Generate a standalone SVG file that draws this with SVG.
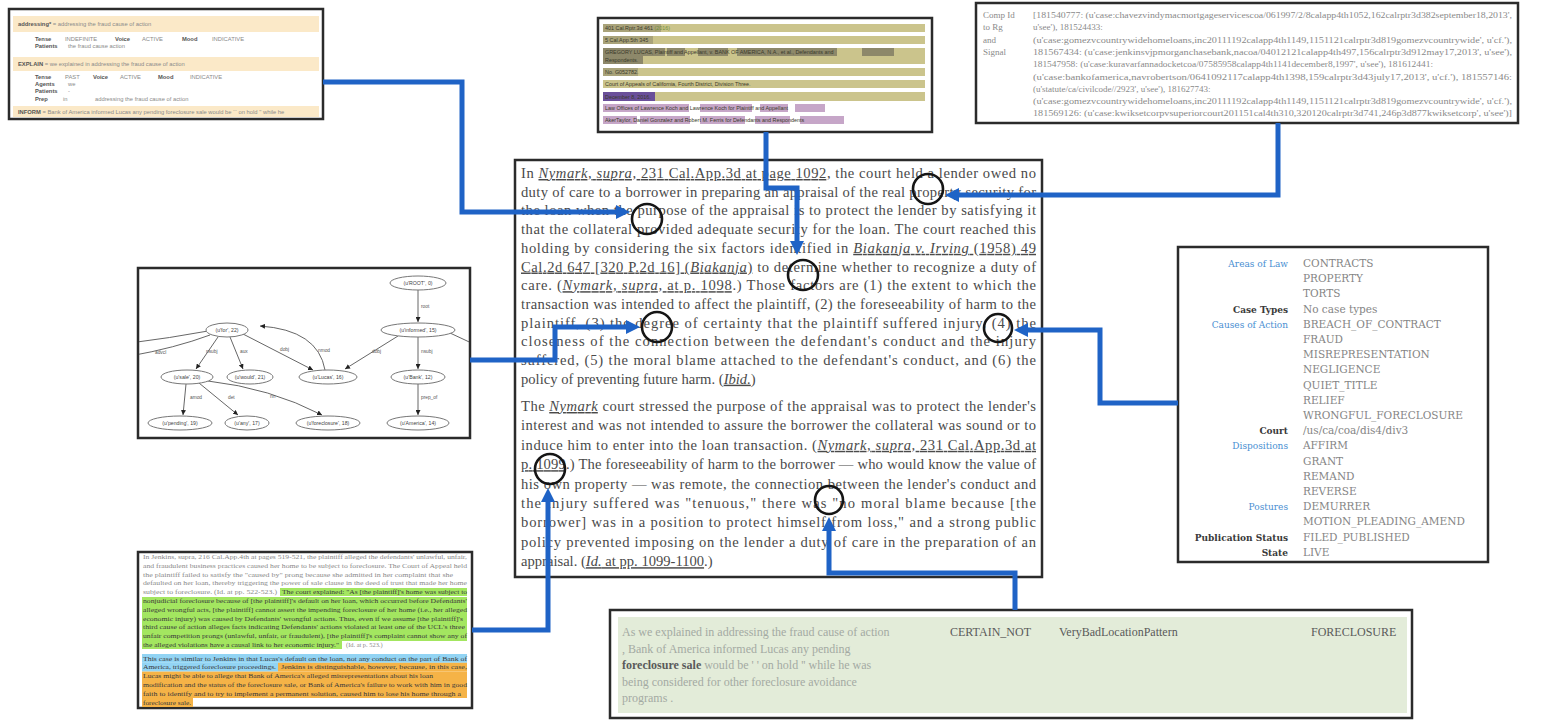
<svg xmlns="http://www.w3.org/2000/svg" width="1564" height="720" viewBox="0 0 1564 720">
<style>
.panel{fill:#fff;stroke:#2b2b2b;stroke-width:2.5}
.conn{fill:none;stroke:#1f63c6;stroke-width:5}
.ring{fill:none;stroke:#151515;stroke-width:2.6}
.ct{font-family:"Liberation Serif",serif;font-size:14.6px;fill:#4a4a4a}
.u{text-decoration:underline}
.i{font-style:italic}
.tl{font-family:"Liberation Sans",sans-serif;font-size:5.8px;fill:#8a8a8a;font-weight:normal}
.tlb{font-family:"Liberation Sans",sans-serif;font-size:5.8px;fill:#555;font-weight:bold}
.tr{font-family:"Liberation Serif",serif;font-size:9px;fill:#8a8a8a}
.lbl{font-family:"DejaVu Serif",serif;font-size:9px;text-anchor:end;font-weight:bold}
.blue{fill:#4a8fd2;font-weight:normal}
.dark{fill:#3a3a3a}
.val{font-family:"DejaVu Serif",serif;font-size:10.5px;fill:#858585}
.gn{font-family:"Liberation Sans",sans-serif;font-size:5.2px;fill:#444;text-anchor:middle}
.gl{font-family:"Liberation Sans",sans-serif;font-size:4.8px;fill:#555}
.ge{fill:none;stroke:#555;stroke-width:0.9}
.gell{fill:#fff;stroke:#777;stroke-width:1}
.bl{font-family:"Liberation Serif",serif;font-size:6.4px;fill:#8a8a8a}
.blh{font-family:"Liberation Serif",serif;font-size:6.4px;fill:#3a3a3a}
.bc{font-family:"Liberation Serif",serif;font-size:12px;fill:#a3aaa3}
.bcd{font-family:"Liberation Serif",serif;font-size:12px;fill:#5a5a5a}
.tc{font-family:"Liberation Sans",sans-serif;font-size:5.4px;fill:#3a3a2a}
</style>
<defs>
<marker id="ah" markerUnits="userSpaceOnUse" markerWidth="16" markerHeight="16" viewBox="0 0 16 16" refX="0" refY="8" orient="auto"><path d="M0,1 L14,8 L0,15 z" fill="#1f63c6"/></marker>
<marker id="ga" markerUnits="userSpaceOnUse" markerWidth="5" markerHeight="5" viewBox="0 0 10 10" refX="10" refY="5" orient="auto"><path d="M0,0 L10,5 L0,10 z" fill="#222"/></marker>
<clipPath id="gclip"><rect x="139" y="269" width="330" height="168"/></clipPath>
</defs>
<rect width="1564" height="720" fill="#fff"/>

<!-- Top-left: verb frames -->
<g id="frames">
<rect class="panel" x="9" y="9" width="314" height="110"/>
<rect x="13" y="16" width="306" height="16" fill="#fbe9c8"/>
<text class="tlb" x="18" y="26">addressing*<tspan class="tl"> = addressing the fraud cause of action</tspan></text>
<text class="tlb" x="35" y="41">Tense</text><text class="tl" x="65" y="41">INDEFINITE</text>
<text class="tlb" x="115" y="41">Voice</text><text class="tl" x="142" y="41">ACTIVE</text>
<text class="tlb" x="182" y="41">Mood</text><text class="tl" x="212" y="41">INDICATIVE</text>
<text class="tlb" x="35" y="47.5">Patients</text><text class="tl" x="68" y="47.5">the fraud cause action</text>
<rect x="13" y="57" width="306" height="14" fill="#fbe9c8"/>
<text class="tlb" x="18" y="66">EXPLAIN<tspan class="tl"> = we explained in addressing the fraud cause of action</tspan></text>
<text class="tlb" x="35" y="79">Tense</text><text class="tl" x="65" y="79">PAST</text>
<text class="tlb" x="93" y="79">Voice</text><text class="tl" x="120" y="79">ACTIVE</text>
<text class="tlb" x="158" y="79">Mood</text><text class="tl" x="190" y="79">INDICATIVE</text>
<text class="tlb" x="35" y="86">Agents</text><text class="tl" x="68" y="86">we</text>
<text class="tlb" x="35" y="93">Patients</text><text class="tl" x="68" y="93">-</text>
<text class="tlb" x="35" y="100.5">Prep</text><text class="tl" x="63" y="100.5">in</text><text class="tl" x="95" y="100.5">addressing the fraud cause of action</text>
<rect x="13" y="106" width="306" height="11" fill="#fbe9c8"/>
<text class="tlb" x="18" y="114">INFORM<tspan class="tl"> = Bank of America informed Lucas any pending foreclosure sale would be `` on hold '' while he</tspan></text>
</g>

<!-- Top-center: case header -->
<g id="header">
<rect class="panel" x="598" y="18" width="334" height="114"/>
<rect x="603" y="24" width="322" height="8" fill="#cbc48c"/>
<rect x="603" y="24" width="58" height="8" fill="#a9a37a"/>
<text class="tc" x="605" y="30">401 Cal.Rptr.3d 461 <tspan fill="#6f8f3a">(2016)</tspan></text>
<rect x="603" y="36" width="322" height="8" fill="#cbc48c"/>
<rect x="603" y="36" width="50" height="8" fill="#a9a37a"/>
<text class="tc" x="605" y="42">5 Cal.App.5th 345</text>
<rect x="603" y="48" width="322" height="16" fill="#cbc48c"/>
<rect x="603" y="48" width="62" height="8" fill="#8d886a"/>
<rect x="667" y="48" width="18" height="8" fill="#8d886a"/>
<rect x="698" y="48" width="30" height="8" fill="#8d886a"/>
<rect x="737" y="48" width="100" height="8" fill="#8d886a"/>
<rect x="862" y="48" width="32" height="8" fill="#8d886a"/>
<rect x="603" y="56" width="40" height="8" fill="#8d886a"/>
<text class="tc" x="605" y="54">GREGORY LUCAS, Plaintiff and Appellant, v. BANK OF AMERICA, N.A., et al., Defendants and</text>
<text class="tc" x="605" y="62">Respondents.</text>
<rect x="603" y="68" width="322" height="8" fill="#cbc48c"/>
<rect x="603" y="68" width="35" height="8" fill="#a9a37a"/>
<text class="tc" x="605" y="74">No. G052782.</text>
<rect x="603" y="80" width="322" height="8" fill="#cbc48c"/>
<text class="tc" x="605" y="86" fill="#2e8f7a">Court of Appeals of California, Fourth District, Division Three.</text>
<rect x="603" y="92" width="322" height="9" fill="#cbc48c"/>
<rect x="603" y="92" width="52" height="9" fill="#6a4f9a"/>
<text class="tc" x="605" y="98.5" fill="#2a1f45">December 8, 2016.</text>
<rect x="603" y="104" width="86" height="8" fill="#c6a6c8"/>
<rect x="700" y="104" width="52" height="8" fill="#c6a6c8"/>
<rect x="760" y="104" width="28" height="8" fill="#c6a6c8"/>
<rect x="795" y="104" width="30" height="8" fill="#c6a6c8"/>
<text class="tc" x="605" y="110">Law Offices of Lawrence Koch  and  Lawrence Koch  for  Plaintiff  and  Appellant</text>
<rect x="603" y="116" width="34" height="8" fill="#c6a6c8"/>
<rect x="640" y="116" width="50" height="8" fill="#c6a6c8"/>
<rect x="700" y="116" width="45" height="8" fill="#c6a6c8"/>
<rect x="755" y="116" width="35" height="8" fill="#c6a6c8"/>
<rect x="800" y="116" width="44" height="8" fill="#c6a6c8"/>
<text class="tc" x="605" y="122">AkerTaylor,  Daniel Gonzalez  and  Robert M. Ferris  for  Defendants  and  Respondents</text>
</g>

<!-- Top-right: citation signals -->
<g id="citations">
<rect class="panel" x="976" y="3" width="542" height="120"/>
<text class="tr" x="983" y="18">Comp Id</text>
<text class="tr" x="983" y="30">to Rg</text>
<text class="tr" x="983" y="43">and</text>
<text class="tr" x="983" y="55">Signal</text>
<text class="tr" x="1033" y="18" textLength="479" lengthAdjust="spacingAndGlyphs">[181540777: (u'case:chavezvindymacmortgageservicescoa/061997/2/8calapp4th1052,162calrptr3d382september18,2013',</text>
<text class="tr" x="1033" y="30">u'see'), 181524433:</text>
<text class="tr" x="1033" y="43" textLength="479" lengthAdjust="spacingAndGlyphs">(u'case:gomezvcountrywidehomeloans,inc20111192calapp4th1149,1151121calrptr3d819gomezvcountrywide', u'cf.'),</text>
<text class="tr" x="1033" y="55" textLength="479" lengthAdjust="spacingAndGlyphs">181567434: (u'case:jenkinsvjpmorganchasebank,nacoa/04012121calapp4th497,156calrptr3d912may17,2013', u'see'),</text>
<text class="tr" x="1033" y="67" textLength="400" lengthAdjust="spacingAndGlyphs">181547958: (u'case:kuravarfannadocketcoa/07585958calapp4th1141december8,1997', u'see'), 181612441:</text>
<text class="tr" x="1033" y="80" textLength="479" lengthAdjust="spacingAndGlyphs">(u'case:bankofamerica,navrobertson/0641092117calapp4th1398,159calrptr3d43july17,2013', u'cf.'), 181557146:</text>
<text class="tr" x="1033" y="92">(u'statute/ca/civilcode//2923', u'see'), 181627743:</text>
<text class="tr" x="1033" y="104" textLength="479" lengthAdjust="spacingAndGlyphs">(u'case:gomezvcountrywidehomeloans,inc20111192calapp4th1149,1151121calrptr3d819gomezvcountrywide', u'cf.'),</text>
<text class="tr" x="1033" y="116" textLength="479" lengthAdjust="spacingAndGlyphs">181569126: (u'case:kwiksetcorpvsuperiorcourt201151cal4th310,320120calrptr3d741,246p3d877kwiksetcorp', u'see')]</text>
</g>

<!-- Left: dependency graph -->
<g id="depgraph">
<rect class="panel" x="138" y="268" width="332" height="170"/>
<g clip-path="url(#gclip)">
<path class="ge" d="M418,290 L418,322" marker-end="url(#ga)"/>
<path class="ge" d="M398,336 L345,369" marker-end="url(#ga)"/>
<path class="ge" d="M418,337 L418,369" marker-end="url(#ga)"/>
<path class="ge" d="M450,333 L480,347"/>
<path class="ge" d="M208,331 Q170,338 130,343"/>
<path class="ge" d="M210,335 Q175,348 130,356"/>
<path class="ge" d="M218,337 L196,369" marker-end="url(#ga)"/>
<path class="ge" d="M230,337 L243,369" marker-end="url(#ga)"/>
<path class="ge" d="M243,334 L313,370" marker-end="url(#ga)"/>
<path class="ge" d="M325,370 Q318,330 260,326" marker-end="url(#ga)"/>
<path class="ge" d="M186,384 L183,415" marker-end="url(#ga)"/>
<path class="ge" d="M199,383 L238,415" marker-end="url(#ga)"/>
<path class="ge" d="M208,381 Q270,388 322,415" marker-end="url(#ga)"/>
<path class="ge" d="M418,384 L418,415" marker-end="url(#ga)"/>
<text class="gl" x="421" y="308">root</text>
<text class="gl" x="372" y="353">dobj</text>
<text class="gl" x="421" y="353">nsubj</text>
<text class="gl" x="155" y="354">advcl</text>
<text class="gl" x="206" y="353">nsubj</text>
<text class="gl" x="240" y="353">aux</text>
<text class="gl" x="280" y="351">dobj</text>
<text class="gl" x="318" y="352">nmod</text>
<text class="gl" x="190" y="399">amod</text>
<text class="gl" x="228" y="399">det</text>
<text class="gl" x="270" y="398">nn</text>
<text class="gl" x="421" y="399">prep_of</text>
<ellipse class="gell" cx="418" cy="283" rx="28" ry="7"/><text class="gn" x="418" y="285">(u'ROOT', 0)</text>
<ellipse class="gell" cx="418" cy="330" rx="37" ry="7"/><text class="gn" x="418" y="332">(u'informed', 15)</text>
<ellipse class="gell" cx="227" cy="330" rx="21" ry="7"/><text class="gn" x="227" y="332">(u'for', 22)</text>
<ellipse class="gell" cx="187" cy="377" rx="26" ry="7"/><text class="gn" x="187" y="379">(u'sale', 20)</text>
<ellipse class="gell" cx="250" cy="377" rx="23" ry="7"/><text class="gn" x="250" y="379">(u'would', 21)</text>
<ellipse class="gell" cx="328" cy="377" rx="29" ry="7"/><text class="gn" x="328" y="379">(u'Lucas', 16)</text>
<ellipse class="gell" cx="418" cy="377" rx="27" ry="7"/><text class="gn" x="418" y="379">(u'Bank', 12)</text>
<ellipse class="gell" cx="180" cy="423" rx="32" ry="7"/><text class="gn" x="180" y="425">(u'pending', 19)</text>
<ellipse class="gell" cx="247" cy="423" rx="22" ry="7"/><text class="gn" x="247" y="425">(u'any', 17)</text>
<ellipse class="gell" cx="328" cy="423" rx="32" ry="7"/><text class="gn" x="328" y="425">(u'foreclosure', 18)</text>
<ellipse class="gell" cx="418" cy="423" rx="31" ry="7"/><text class="gn" x="418" y="425">(u'America', 14)</text>
</g>
</g>

<!-- Center: opinion text -->
<g id="opinion">
<rect class="panel" x="515" y="160" width="527" height="417"/>
<text class="ct" x="521" y="178" textLength="515" lengthAdjust="spacing">In <tspan class="u i">Nymark, supra,</tspan><tspan class="u"> 231 Cal.App.3d at page 1092</tspan>, the court held a lender owed no</text>
<text class="ct" x="521" y="196.7" textLength="515" lengthAdjust="spacing">duty of care to a borrower in preparing an appraisal of the real property security for</text>
<text class="ct" x="521" y="215.4" textLength="515" lengthAdjust="spacing">the loan when the purpose of the appraisal is to protect the lender by satisfying it</text>
<text class="ct" x="521" y="234.1" textLength="515" lengthAdjust="spacing">that the collateral provided adequate security for the loan. The court reached this</text>
<text class="ct" x="521" y="252.8" textLength="515" lengthAdjust="spacing">holding by considering the six factors identified in <tspan class="u i">Biakanja v. Irving</tspan><tspan class="u"> (1958) 49</tspan></text>
<text class="ct" x="521" y="271.5" textLength="515" lengthAdjust="spacing"><tspan class="u">Cal.2d 647 [320 P.2d 16] (</tspan><tspan class="u i">Biakanja</tspan><tspan class="u">)</tspan> to determine whether to recognize a duty of</text>
<text class="ct" x="521" y="290.2" textLength="515" lengthAdjust="spacing">care. (<tspan class="u i">Nymark, supra,</tspan><tspan class="u"> at p. 1098</tspan>.) Those factors are (1) the extent to which the</text>
<text class="ct" x="521" y="308.9" textLength="515" lengthAdjust="spacing">transaction was intended to affect the plaintiff, (2) the foreseeability of harm to the</text>
<text class="ct" x="521" y="327.6" textLength="515" lengthAdjust="spacing">plaintiff, (3) the degree of certainty that the plaintiff suffered injury, (4) the</text>
<text class="ct" x="521" y="346.3" textLength="515" lengthAdjust="spacing">closeness of the connection between the defendant's conduct and the injury</text>
<text class="ct" x="521" y="365" textLength="515" lengthAdjust="spacing">suffered, (5) the moral blame attached to the defendant's conduct, and (6) the</text>
<text class="ct" x="521" y="383.7">policy of preventing future harm. (<tspan class="u i">Ibid.</tspan>)</text>
<text class="ct" x="521" y="411" textLength="515" lengthAdjust="spacing">The <tspan class="u i">Nymark</tspan> court stressed the purpose of the appraisal was to protect the lender's</text>
<text class="ct" x="521" y="430.4" textLength="515" lengthAdjust="spacing">interest and was not intended to assure the borrower the collateral was sound or to</text>
<text class="ct" x="521" y="449.8" textLength="515" lengthAdjust="spacing">induce him to enter into the loan transaction. (<tspan class="u i">Nymark, supra,</tspan><tspan class="u"> 231 Cal.App.3d at</tspan></text>
<text class="ct" x="521" y="469.2" textLength="515" lengthAdjust="spacing"><tspan class="u">p. 1099</tspan>.) The foreseeability of harm to the borrower — who would know the value of</text>
<text class="ct" x="521" y="488.6" textLength="515" lengthAdjust="spacing">his own property — was remote, the connection between the lender's conduct and</text>
<text class="ct" x="521" y="508" textLength="515" lengthAdjust="spacing">the injury suffered was "tenuous," there was "no moral blame because [the</text>
<text class="ct" x="521" y="527.4" textLength="515" lengthAdjust="spacing">borrower] was in a position to protect himself from loss," and a strong public</text>
<text class="ct" x="521" y="546.8" textLength="515" lengthAdjust="spacing">policy prevented imposing on the lender a duty of care in the preparation of an</text>
<text class="ct" x="521" y="566.2">appraisal. (<tspan class="u i">Id.</tspan><tspan class="u"> at pp. 1099-1100</tspan>.)</text>
<circle class="ring" cx="647" cy="219" r="15"/>
<circle class="ring" cx="928" cy="189" r="15"/>
<circle class="ring" cx="803" cy="275" r="15"/>
<circle class="ring" cx="657" cy="327" r="15"/>
<circle class="ring" cx="998" cy="328" r="14"/>
<circle class="ring" cx="550" cy="469" r="15"/>
<circle class="ring" cx="829" cy="500" r="14"/>
</g>

<!-- Right: metadata -->
<g id="metadata">
<rect class="panel" x="1178" y="247" width="310" height="315"/>
<text class="lbl blue" x="1288" y="267">Areas of Law</text><text class="val" x="1303" y="267">CONTRACTS</text>
<text class="val" x="1303" y="282.2">PROPERTY</text>
<text class="val" x="1303" y="297.4">TORTS</text>
<text class="lbl dark" x="1288" y="312.6">Case Types</text><text class="val" x="1303" y="312.6">No case types</text>
<text class="lbl blue" x="1288" y="327.8">Causes of Action</text><text class="val" x="1303" y="327.8">BREACH_OF_CONTRACT</text>
<text class="val" x="1303" y="343">FRAUD</text>
<text class="val" x="1303" y="358.2">MISREPRESENTATION</text>
<text class="val" x="1303" y="373.4">NEGLIGENCE</text>
<text class="val" x="1303" y="388.6">QUIET_TITLE</text>
<text class="val" x="1303" y="403.8">RELIEF</text>
<text class="val" x="1303" y="419">WRONGFUL_FORECLOSURE</text>
<text class="lbl dark" x="1288" y="434.2">Court</text><text class="val" x="1303" y="434.2">/us/ca/coa/dis4/div3</text>
<text class="lbl blue" x="1288" y="449.4">Dispositions</text><text class="val" x="1303" y="449.4">AFFIRM</text>
<text class="val" x="1303" y="464.6">GRANT</text>
<text class="val" x="1303" y="479.8">REMAND</text>
<text class="val" x="1303" y="495">REVERSE</text>
<text class="lbl blue" x="1288" y="510.2">Postures</text><text class="val" x="1303" y="510.2">DEMURRER</text>
<text class="val" x="1303" y="525.4">MOTION_PLEADING_AMEND</text>
<text class="lbl dark" x="1288" y="540.6">Publication Status</text><text class="val" x="1303" y="540.6">FILED_PUBLISHED</text>
<text class="lbl dark" x="1288" y="555.8">State</text><text class="val" x="1303" y="555.8">LIVE</text>
</g>

<!-- Bottom-left: highlighted analogy -->
<g id="analogy">
<rect class="panel" x="138" y="552" width="334" height="156"/>
<rect x="280" y="588" width="187" height="8" fill="#a3e660"/>
<rect x="142" y="597" width="325" height="44" fill="#a3e660"/>
<rect x="142" y="641" width="200" height="8" fill="#a3e660"/>
<rect x="142" y="654" width="325" height="8.8" fill="#92d4f4"/>
<rect x="142" y="662.8" width="136" height="8.8" fill="#92d4f4"/>
<rect x="278" y="662.8" width="189" height="8.8" fill="#f5b347"/>
<rect x="142" y="671.6" width="325" height="26.4" fill="#f5b347"/>
<rect x="142" y="698" width="51" height="9" fill="#f5b347"/>
<text class="bl" x="143" y="559" textLength="324" lengthAdjust="spacingAndGlyphs">In Jenkins, supra, 216 Cal.App.4th at pages 519-521, the plaintiff alleged the defendants' unlawful, unfair,</text>
<text class="bl" x="143" y="567.8" textLength="324" lengthAdjust="spacingAndGlyphs">and fraudulent business practices caused her home to be subject to foreclosure. The Court of Appeal held</text>
<text class="bl" x="143" y="576.6" textLength="310" lengthAdjust="spacingAndGlyphs">the plaintiff failed to satisfy the "caused by" prong because she admitted in her complaint that she</text>
<text class="bl" x="143" y="585.4" textLength="324" lengthAdjust="spacingAndGlyphs">defaulted on her loan, thereby triggering the power of sale clause in the deed of trust that made her home</text>
<text class="bl" x="143" y="594.2" textLength="134" lengthAdjust="spacingAndGlyphs">subject to foreclosure. (Id. at pp. 522-523.)</text>
<text class="blh" x="282" y="594.2" textLength="185" lengthAdjust="spacingAndGlyphs">The court explained: "As [the plaintiff]'s home was subject to</text>
<text class="blh" x="143" y="603" textLength="324" lengthAdjust="spacingAndGlyphs">nonjudicial foreclosure because of [the plaintiff]'s default on her loan, which occurred before Defendants'</text>
<text class="blh" x="143" y="611.8" textLength="324" lengthAdjust="spacingAndGlyphs">alleged wrongful acts, [the plaintiff] cannot assert the impending foreclosure of her home (i.e., her alleged</text>
<text class="blh" x="143" y="620.6" textLength="320" lengthAdjust="spacingAndGlyphs">economic injury) was caused by Defendants' wrongful actions. Thus, even if we assume [the plaintiff]'s</text>
<text class="blh" x="143" y="629.4" textLength="322" lengthAdjust="spacingAndGlyphs">third cause of action alleges facts indicating Defendants' actions violated at least one of the UCL's three</text>
<text class="blh" x="143" y="638.2" textLength="324" lengthAdjust="spacingAndGlyphs">unfair competition prongs (unlawful, unfair, or fraudulent), [the plaintiff]'s complaint cannot show any of</text>
<text class="blh" x="143" y="647" textLength="196" lengthAdjust="spacingAndGlyphs">the alleged violations have a causal link to her economic injury."</text>
<text class="bl" x="346" y="647">(Id. at p. 523.)</text>
<text class="blh" x="143" y="660.5" textLength="324" lengthAdjust="spacingAndGlyphs">This case is similar to Jenkins in that Lucas's default on the loan, not any conduct on the part of Bank of</text>
<text class="blh" x="143" y="669.3" textLength="133" lengthAdjust="spacingAndGlyphs">America, triggered foreclosure proceedings.</text>
<text class="blh" x="281" y="669.3" textLength="186" lengthAdjust="spacingAndGlyphs">Jenkins is distinguishable, however, because, in this case,</text>
<text class="blh" x="143" y="678.1" textLength="290" lengthAdjust="spacingAndGlyphs">Lucas might be able to allege that Bank of America's alleged misrepresentations about his loan</text>
<text class="blh" x="143" y="686.9" textLength="324" lengthAdjust="spacingAndGlyphs">modification and the status of the foreclosure sale, or Bank of America's failure to work with him in good</text>
<text class="blh" x="143" y="695.7" textLength="318" lengthAdjust="spacingAndGlyphs">faith to identify and to try to implement a permanent solution, caused him to lose his home through a</text>
<text class="blh" x="143" y="704.5" textLength="48" lengthAdjust="spacingAndGlyphs">foreclosure sale.</text>
</g>

<!-- Bottom-center: extracted pattern -->
<g id="pattern">
<rect class="panel" x="610" y="610" width="802" height="108"/>
<rect x="618" y="617" width="789" height="96" fill="#e3ecd9"/>
<text class="bc" x="622" y="636">As we explained in addressing the fraud cause of action</text>
<text class="bc" x="622" y="652.5">, Bank of America informed Lucas any pending</text>
<text class="bc" x="622" y="669"><tspan class="bcd" font-weight="bold">foreclosure sale</tspan> would be ' ' on hold '' while he was</text>
<text class="bc" x="622" y="685.5">being considered for other foreclosure avoidance</text>
<text class="bc" x="622" y="702">programs .</text>
<text class="bcd" x="950" y="636">CERTAIN_NOT</text>
<text class="bcd" x="1059" y="636">VeryBadLocationPattern</text>
<text class="bcd" x="1311" y="636">FORECLOSURE</text>
</g>

<!-- Connectors -->
<g id="connectors">
<path class="conn" d="M323,82 H462 V212 H616" marker-end="url(#ah)"/>
<path class="conn" d="M766,132 V188 H797 V241" marker-end="url(#ah)"/>
<path class="conn" d="M1278,123 V195 H959" marker-end="url(#ah)"/>
<path class="conn" d="M470,360 H555 V327 H626" marker-end="url(#ah)"/>
<path class="conn" d="M1178,403 H1100 V330 H1028" marker-end="url(#ah)"/>
<path class="conn" d="M472,630 H548 V502" marker-end="url(#ah)"/>
<path class="conn" d="M1015,610 V573 H829 V531" marker-end="url(#ah)"/>
</g>
</svg>
